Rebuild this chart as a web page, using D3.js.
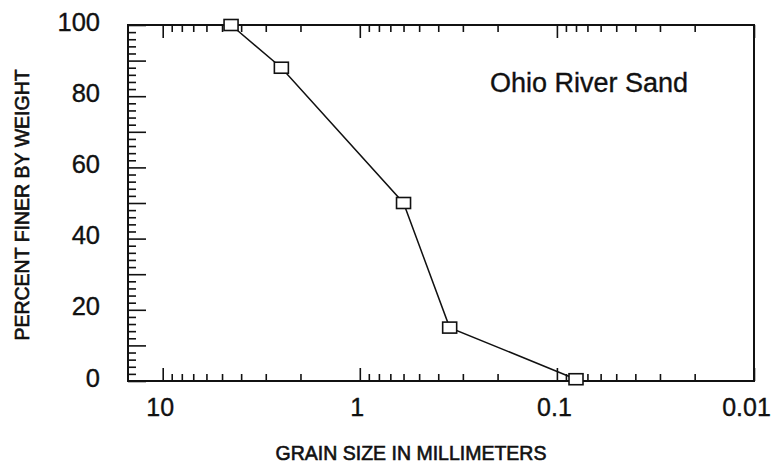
<!DOCTYPE html>
<html>
<head>
<meta charset="utf-8">
<script src="https://cdn.jsdelivr.net/npm/d3@7/dist/d3.min.js"></script>
<style>
  body { margin: 0; background: #fff; }
  svg { display: block; font-family: "Liberation Sans", Arial, Helvetica, sans-serif; }
  svg text { stroke: #111; stroke-width: 0.35px; }
</style>
</head>
<body>
<script>
// grain size (mm) vs percent finer
var grainSize = [4.5, 2.5, 0.6, 0.35, 0.08];
var percentFiner = [100, 88, 50, 15, 0.5];

var xMajorTicks = [10, 1, 0.1, 0.01];
var xMinorTicks = [9, 8, 7, 6, 5, 4, 3, 2,
                   0.9, 0.8, 0.7, 0.6, 0.5, 0.4, 0.3, 0.2,
                   0.09, 0.08, 0.07, 0.06, 0.05, 0.04, 0.03, 0.02];
var xTickLabels = ["10", "1", "0.1", "0.01"];
var yMajorTicks = [0, 10, 20, 30, 40, 50, 60, 70, 80, 90, 100];
var yMinorTicks = [2, 4, 6, 8, 12, 14, 16, 18, 22, 24, 26, 28, 32, 34, 36, 38,
                   42, 44, 46, 48, 52, 54, 56, 58, 62, 64, 66, 68, 72, 74, 76, 78,
                   82, 84, 86, 88, 92, 94, 96, 98];
var yTickLabels = [0, 20, 40, 60, 80, 100];

var width = 775, height = 464;
var plot = { left: 128, right: 754, top: 25, bottom: 381 };

var svg = d3.select("body").append("svg").attr("width", width).attr("height", height);

var x = d3.scaleLog().domain([15, 0.01]).range([plot.left, plot.right]);
var y = d3.scaleLinear().domain([0, 100]).range([plot.bottom, plot.top]);

function styleAxis(g){
  g.select(".domain").remove();
  g.selectAll(".tick line").attr("stroke", "#111").attr("stroke-width", 1.6);
  g.selectAll(".tick text").attr("fill", "#111");
}

// bottom axis: decades with labels, inward ticks
svg.append("g")
  .attr("transform", "translate(0," + plot.bottom + ")")
  .call(d3.axisBottom(x).tickValues(xMajorTicks).tickSize(-13).tickPadding(17)
    .tickFormat(function(d, i){ return xTickLabels[i]; }))
  .call(styleAxis)
  .call(function(g){
    g.selectAll(".tick text").attr("font-size", 25).attr("dx", function(d, i){ return i == 3 ? -8 : -3; });
  });

svg.append("g")
  .attr("transform", "translate(0," + plot.bottom + ")")
  .call(d3.axisBottom(x).tickValues(xMinorTicks).tickSize(-7).tickFormat(""))
  .call(styleAxis);

// top axis: same ticks pointing down, no labels
svg.append("g")
  .attr("transform", "translate(0," + plot.top + ")")
  .call(d3.axisTop(x).tickValues(xMajorTicks).tickSize(-13).tickFormat(""))
  .call(styleAxis);

svg.append("g")
  .attr("transform", "translate(0," + plot.top + ")")
  .call(d3.axisTop(x).tickValues(xMinorTicks).tickSize(-7).tickFormat(""))
  .call(styleAxis);

// left axis
svg.append("g")
  .attr("transform", "translate(" + plot.left + ",0)")
  .call(d3.axisLeft(y).tickValues(yMajorTicks).tickSize(-18).tickPadding(28)
    .tickFormat(function(d){ return yTickLabels.indexOf(d) >= 0 ? d : ""; }))
  .call(styleAxis)
  .call(function(g){
    g.selectAll(".tick text").attr("font-size", 25.5).attr("dy", "0.2em");
  });

svg.append("g")
  .attr("transform", "translate(" + plot.left + ",0)")
  .call(d3.axisLeft(y).tickValues(yMinorTicks).tickSize(-8).tickFormat(""))
  .call(styleAxis);

// frame
svg.append("rect")
  .attr("x", plot.left).attr("y", plot.top)
  .attr("width", plot.right - plot.left).attr("height", plot.bottom - plot.top)
  .attr("fill", "none").attr("stroke", "#111").attr("stroke-width", 2);

// data line and markers
var points = grainSize.map(function(d, i){ return [d, percentFiner[i]]; });

svg.append("path")
  .datum(points)
  .attr("d", d3.line().x(function(d){ return x(d[0]); }).y(function(d){ return y(d[1]); }))
  .attr("fill", "none").attr("stroke", "#111").attr("stroke-width", 1.5);

svg.selectAll("rect.marker")
  .data(points)
  .enter().append("rect")
  .attr("class", "marker")
  .attr("x", function(d){ return x(d[0]) - 7; })
  .attr("y", function(d){ return y(d[1]) - 5.5; })
  .attr("width", 14).attr("height", 11)
  .attr("fill", "#fff").attr("stroke", "#111").attr("stroke-width", 1.6);

// labels
svg.append("text")
  .attr("x", 490).attr("y", 92)
  .attr("font-size", 27).attr("fill", "#111")
  .text("Ohio River Sand");

svg.append("text")
  .attr("x", (plot.left + plot.right) / 2 - 30).attr("y", 460)
  .attr("text-anchor", "middle").attr("font-size", 19.5).attr("fill", "#111")
  .style("stroke-width", "0.6px")
  .text("GRAIN SIZE IN MILLIMETERS");

svg.append("text")
  .attr("transform", "translate(29," + ((plot.top + plot.bottom) / 2 + 2) + ") rotate(-90)")
  .attr("text-anchor", "middle").attr("font-size", 19.5).attr("fill", "#111")
  .style("stroke-width", "0.6px")
  .text("PERCENT FINER BY WEIGHT");
</script>
</body>
</html>
